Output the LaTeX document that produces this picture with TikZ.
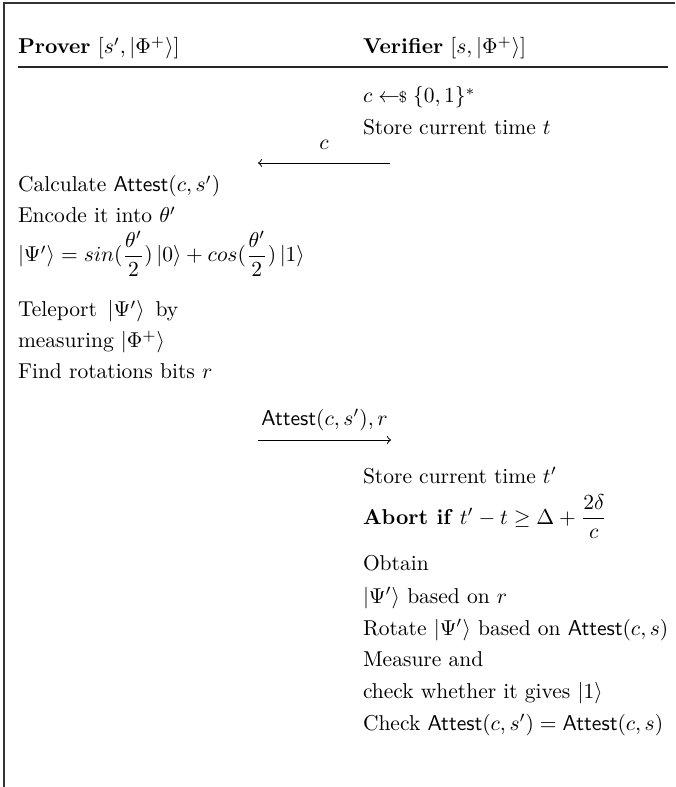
\documentclass[tikz,border=0pt]{standalone}
\usepackage{amsmath,amssymb}
\newcommand{\myket}[1]{\left|#1\right\rangle}
\newcommand{\att}{\mathsf{Attest}}
\tikzset{
  txt/.style={anchor=base west, inner sep=0pt, outer sep=0pt},
  frameline/.style={line width=0.9pt, draw=black!80},
  rulel/.style={line width=0.6pt, draw=black!85},
  msg/.style={line width=0.45pt, draw=black},
}
\begin{document}
\begin{tikzpicture}[x=0.465pt, y=-0.465pt]
\useasboundingbox (0,0) rectangle (675,787);
% frame
\coordinate (tl) at (4,3);
\coordinate (tr) at (675,3);
\coordinate (bl) at (4,787);
\draw[frameline] (tr) -- (tl) -- (bl);
% header
\node[txt] (hp) at (18,54) {\textbf{Prover} $[s',\myket{\Phi^+}]$};
\node[txt] (hv) at (363,54) {\textbf{Verifier} $[s,\myket{\Phi^+}]$};
\coordinate (rl) at (18,67);
\coordinate (rr) at (668,67);
\draw[rulel] (rl) -- (rr);
% verifier first steps
\node[txt] (v1) at (363,103) {$c \leftarrow\!\!{\scriptstyle\$}\;\{0,1\}^*$};
\node[txt] (v2) at (363,135) {Store current time $t$};
% message 1
\coordinate (m1s) at (390,163);
\coordinate (m1e) at (258,163);
\draw[msg,->] (m1s) -- node[above=6pt, inner sep=0pt] (lc) {$c$} (m1e);
% prover
\node[txt] (p1) at (18,192) {Calculate $\att(c,s')$};
\node[txt] (p2) at (18,223) {Encode it into $\theta'$};
\node[txt] (p3) at (18,262) {$\myket{\Psi'} = sin(\dfrac{\theta'}{2})\myket{0} + cos(\dfrac{\theta'}{2})\myket{1}$};
\node[txt] (p4) at (18,317) {Teleport $\,\myket{\Psi'}\,$ by};
\node[txt] (p5) at (18,348) {measuring $\myket{\Phi^+}$};
\node[txt] (p6) at (18,379) {Find rotations bits $r$};
% message 2
\coordinate (m2s) at (258,440);
\coordinate (m2e) at (391,440);
\draw[msg,->] (m2s) -- node[above=4pt, inner sep=0pt] (la) {$\att(c,s'),r$} (m2e);
% verifier checks
\node[txt] (q1) at (363,483) {Store current time $t'$};
\node[txt] (q2) at (363,524) {\textbf{Abort if} $t'-t \geq \Delta + \dfrac{2\delta}{c}$};
\node[txt] (q3) at (363,570) {Obtain};
\node[txt] (q4) at (363,603) {$\myket{\Psi'}$ based on $r$};
\node[txt] (q5) at (363,635) {Rotate $\myket{\Psi'}$ based on $\att(c,s)$};
\node[txt] (q6) at (363,666) {Measure and};
\node[txt] (q7) at (363,698) {check whether it gives $\myket{1}$};
\node[txt] (q8) at (363,730) {Check $\att(c,s') = \att(c,s)$};
\end{tikzpicture}
\end{document}
